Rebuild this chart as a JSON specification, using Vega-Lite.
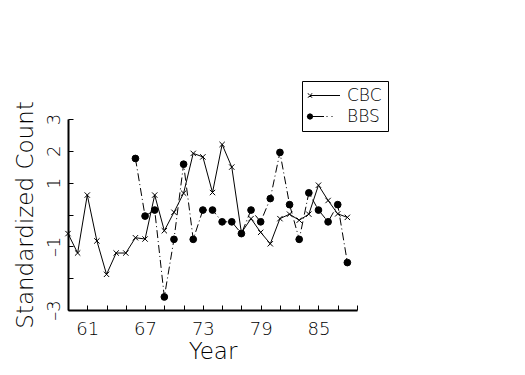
{
  "$schema": "https://vega.github.io/schema/vega-lite/v6.json",
  "autosize": {"type": "none"},
  "padding": {"left": 68, "top": 119, "right": 168, "bottom": 65},
  "width": 289,
  "height": 191,
  "background": "white",
  "config": {
    "view": {"stroke": null},
    "font": "DejaVu Sans",
    "axis": {
      "grid": false,
      "domainColor": "black",
      "domainWidth": 2,
      "tickColor": "black",
      "tickWidth": 1,
      "tickSize": -5,
      "labelColor": "black",
      "titleColor": "black",
      "labelFont": "DejaVu Sans",
      "titleFont": "DejaVu Sans",
      "labelFontWeight": 200,
      "titleFontWeight": 200,
      "labelFontSize": 18,
      "titleFontSize": 23,
      "labelOverlap": false,
      "labelFlush": false,
      "labelBound": false
    }
  },
  "data": {
    "values": [
      {"year": 59, "series": "CBC", "value": -0.6},
      {"year": 60, "series": "CBC", "value": -1.21},
      {"year": 61, "series": "CBC", "value": 0.61},
      {"year": 62, "series": "CBC", "value": -0.83},
      {"year": 63, "series": "CBC", "value": -1.88},
      {"year": 64, "series": "CBC", "value": -1.21},
      {"year": 65, "series": "CBC", "value": -1.21},
      {"year": 66, "series": "CBC", "value": -0.73},
      {"year": 67, "series": "CBC", "value": -0.77},
      {"year": 68, "series": "CBC", "value": 0.61},
      {"year": 69, "series": "CBC", "value": -0.51},
      {"year": 70, "series": "CBC", "value": 0.07},
      {"year": 71, "series": "CBC", "value": 0.67},
      {"year": 72, "series": "CBC", "value": 1.92},
      {"year": 73, "series": "CBC", "value": 1.81},
      {"year": 74, "series": "CBC", "value": 0.69},
      {"year": 75, "series": "CBC", "value": 2.2},
      {"year": 76, "series": "CBC", "value": 1.49},
      {"year": 77, "series": "CBC", "value": -0.57},
      {"year": 78, "series": "CBC", "value": -0.13},
      {"year": 79, "series": "CBC", "value": -0.56},
      {"year": 80, "series": "CBC", "value": -0.92},
      {"year": 81, "series": "CBC", "value": -0.13},
      {"year": 82, "series": "CBC", "value": 0.01},
      {"year": 83, "series": "CBC", "value": -0.18},
      {"year": 84, "series": "CBC", "value": 0.01},
      {"year": 85, "series": "CBC", "value": 0.92},
      {"year": 86, "series": "CBC", "value": 0.44},
      {"year": 87, "series": "CBC", "value": 0.02},
      {"year": 88, "series": "CBC", "value": -0.09},
      {"year": 66, "series": "BBS", "value": 1.76},
      {"year": 67, "series": "BBS", "value": -0.05},
      {"year": 68, "series": "BBS", "value": 0.14},
      {"year": 69, "series": "BBS", "value": -2.59},
      {"year": 70, "series": "BBS", "value": -0.78},
      {"year": 71, "series": "BBS", "value": 1.58},
      {"year": 72, "series": "BBS", "value": -0.78},
      {"year": 73, "series": "BBS", "value": 0.14},
      {"year": 74, "series": "BBS", "value": 0.14},
      {"year": 75, "series": "BBS", "value": -0.23},
      {"year": 76, "series": "BBS", "value": -0.23},
      {"year": 77, "series": "BBS", "value": -0.6},
      {"year": 78, "series": "BBS", "value": 0.14},
      {"year": 79, "series": "BBS", "value": -0.23},
      {"year": 80, "series": "BBS", "value": 0.5},
      {"year": 81, "series": "BBS", "value": 1.95},
      {"year": 82, "series": "BBS", "value": 0.31},
      {"year": 83, "series": "BBS", "value": -0.78},
      {"year": 84, "series": "BBS", "value": 0.68},
      {"year": 85, "series": "BBS", "value": 0.14},
      {"year": 86, "series": "BBS", "value": -0.23},
      {"year": 87, "series": "BBS", "value": 0.31},
      {"year": 88, "series": "BBS", "value": -1.51}
    ]
  },
  "encoding": {
    "x": {
      "field": "year",
      "type": "quantitative",
      "scale": {"domain": [59, 89], "nice": false, "zero": false},
      "axis": {
        "title": "Year",
        "values": [59, 61, 63, 65, 67, 69, 71, 73, 75, 77, 79, 81, 83, 85, 87, 89],
        "labelExpr": "(datum.value - 61) % 6 == 0 ? datum.label : ''",
        "labelPadding": 15,
        "titlePadding": 2
      }
    },
    "y": {
      "field": "value",
      "type": "quantitative",
      "scale": {"domain": [-3, 3], "nice": false, "zero": false},
      "axis": {
        "title": "Standardized Count",
        "values": [-3, -2, -1, 0, 1, 2, 3],
        "labelExpr": "(datum.value == 0 || datum.value == -2) ? '' : (datum.value < 0 ? '–' + abs(datum.value) : '' + datum.value)",
        "labelAngle": -90,
        "labelPadding": 10,
        "titlePadding": 8
      }
    }
  },
  "layer": [
    {
      "transform": [{"filter": "datum.series === 'CBC'"}],
      "mark": {"type": "line", "color": "black", "strokeWidth": 1},
      "encoding": {}
    },
    {
      "transform": [{"filter": "datum.series === 'BBS'"}],
      "mark": {"type": "line", "color": "black", "strokeWidth": 1, "strokeDash": [8, 3, 1, 3]},
      "encoding": {}
    },
    {
      "transform": [{"filter": "datum.series === 'CBC'"}],
      "mark": {"type": "point", "shape": "M-0.8,-0.8L0.8,0.8M-0.8,0.8L0.8,-0.8", "filled": false, "stroke": "black", "strokeWidth": 1, "size": 45, "opacity": 1}
    },
    {
      "transform": [{"filter": "datum.series === 'BBS'"}],
      "mark": {"type": "point", "shape": "circle", "filled": true, "fill": "black", "stroke": "black", "strokeWidth": 1, "size": 45, "opacity": 1}
    },
    {
      "mark": {"type": "point", "filled": true, "fill": "black", "size": 0},
      "encoding": {
        "shape": {
          "field": "series",
          "type": "nominal",
          "scale": {
            "domain": ["CBC", "BBS"],
            "range": [
              "M-1.8,-0.4L-0.9,0.5L-0.8,0.4L-1.7,-0.5ZM-1.8,0.4L-0.9,-0.5L-0.8,-0.4L-1.7,0.5ZM-1.3,-0.1L4.7,-0.1L4.7,0.1L-1.3,0.1Z",
              "M-0.65,0L-0.84,0.46L-1.3,0.65L-1.76,0.46L-1.95,0L-1.76,-0.46L-1.3,-0.65L-0.84,-0.46ZM-1.3,-0.1L1.5,-0.1L1.5,0.1L-1.3,0.1ZM2.0,-0.1L2.2,-0.1L2.2,0.1L2.0,0.1ZM3.0,-0.1L3.2,-0.1L3.2,0.1L3.0,0.1Z"
            ]
          },
          "legend": {
            "title": null,
            "orient": "none",
            "legendX": 234,
            "legendY": -38,
            "strokeColor": "black",
            "padding": 6,
            "symbolSize": 100,
            "symbolStrokeWidth": 1,
            "symbolOpacity": 1,
            "symbolFillColor": "black",
            "labelFontSize": 17,
            "labelFont": "DejaVu Sans",
            "labelFontWeight": 200,
            "labelColor": "black",
            "labelOffset": 22,
            "rowPadding": 3
          }
        }
      }
    }
  ]
}
